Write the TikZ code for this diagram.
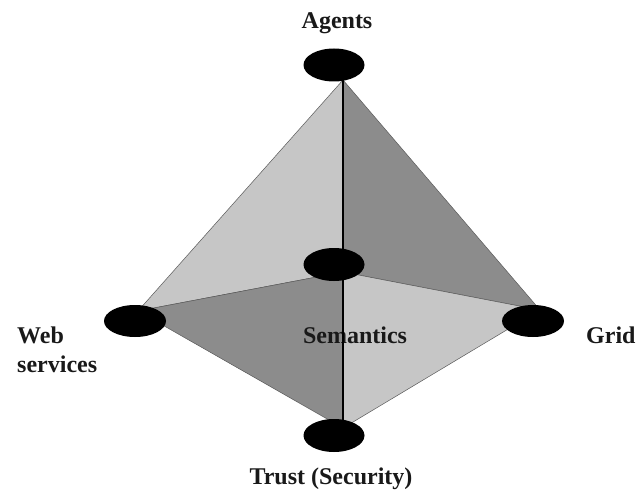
\documentclass[tikz,border=0pt]{standalone}
\usepackage{fontspec}
\setmainfont{Liberation Serif}
\usetikzlibrary{shapes.geometric}
\definecolor{lightface}{HTML}{C6C6C6}
\definecolor{darkface}{HTML}{8C8C8C}
\definecolor{edgecol}{HTML}{5A5A5A}
\begin{document}
\begin{tikzpicture}[x=1pt,y=-1pt,
  blob/.style={ellipse,fill=black,draw=none,inner sep=0pt,minimum width=61pt,minimum height=33pt},
  lbl/.style={font=\fontsize{24}{28}\selectfont\bfseries,inner sep=0pt,text=black!90},
  facelight/.style={fill=lightface,draw=edgecol,line width=0.5pt,line join=round},
  facedark/.style={fill=darkface,draw=edgecol,line width=0.5pt,line join=round}]
\useasboundingbox (0,0) rectangle (639,492);
\fill[white] (0,0) rectangle (639,492);
% vertices
\coordinate (A) at (343,80);
\coordinate (W) at (138,311);
\coordinate (M) at (343,272);
\coordinate (G) at (540,310);
\coordinate (T) at (343,428);
% faces
\draw[facelight] (A) -- (W) -- (M) -- cycle;
\draw[facedark] (A) -- (M) -- (G) -- cycle;
\draw[facedark] (W) -- (M) -- (T) -- cycle;
\draw[facelight] (M) -- (G) -- (T) -- cycle;
% labels
\node[lbl,anchor=base] (lagents) at (337,29) {Agents};
\node[lbl,anchor=base west] (lweb) at (17,343) {Web};
\node[lbl,anchor=base west] (lserv) at (17,372) {services};
\node[lbl,anchor=base] (lsem) at (355,343) {Semantics};
\node[lbl,anchor=base west] (lgrid) at (586,343) {Grid};
\node[lbl,anchor=base] (ltrust) at (331,484) {Trust (Security)};
% vertical line
\draw[black,line width=1.4pt] (A) -- (T);
% ellipses
\node[blob] (agents) at (334,65) {};
\node[blob] (sem) at (334,264.5) {};
\node[blob,minimum width=62pt,minimum height=32pt] (web) at (135,321) {};
\node[blob,minimum width=62pt,minimum height=32pt] (grid) at (533,321) {};
\node[blob] (trust) at (334,435.5) {};
\end{tikzpicture}
\end{document}
